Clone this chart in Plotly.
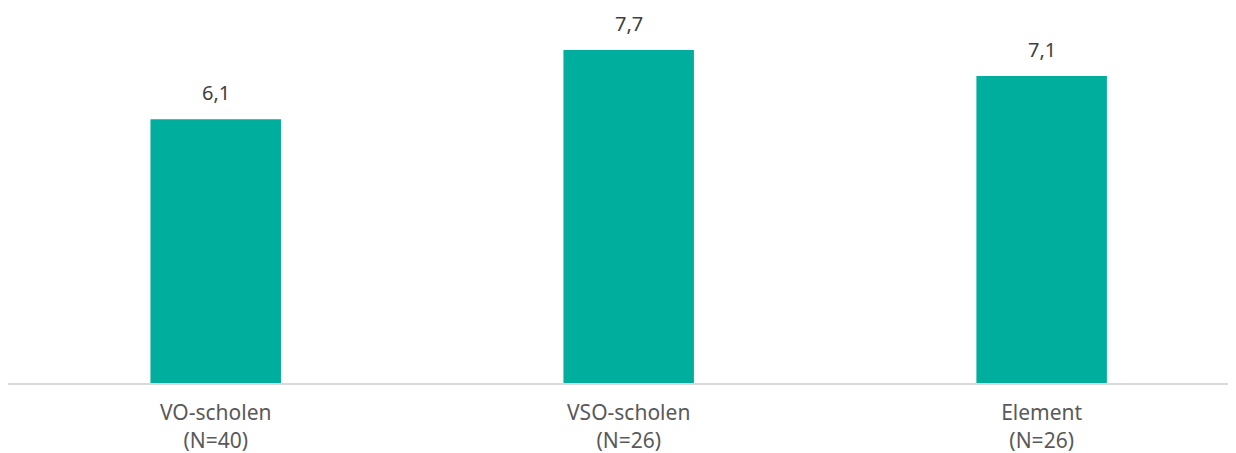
import plotly.graph_objects as go

categories = ['VO-scholen<br>(N=40)', 'VSO-scholen<br>(N=26)', 'Element<br>(N=26)']
scores = [6.1, 7.7, 7.1]

BAR_COLOR = '#00AE9D'
FONT = 'Noto Sans'

fig = go.Figure(go.Bar(
    x=categories, y=scores,
    marker_color=BAR_COLOR, marker_line_width=0,
    width=0.316, hoverinfo='skip'
))

for cat, val in zip(categories, scores):
    fig.add_annotation(
        x=cat, y=val, text=f'{val:.1f}'.replace('.', ','),
        showarrow=False, yanchor='bottom', yshift=11,
        font=dict(family=FONT, size=20, color='#404040')
    )

# page body has an 8px margin, so the figure starts 8px in
fig.update_layout(
    width=1236, height=445,
    margin=dict(l=0, r=0, t=0, b=70),
    plot_bgcolor='white', paper_bgcolor='white',
    showlegend=False,
    font=dict(family=FONT, size=21, color='#595959'),
    xaxis=dict(
        range=[-0.503, 2.49], showline=True, linecolor='#d9d9d9',
        linewidth=2, ticks='', showgrid=False,
        tickfont=dict(size=21, color='#595959'),
        ticklabelstandoff=10
    ),
    yaxis=dict(range=[0, 8.674], visible=False, showgrid=False)
)

fig.write_html('out.html')
